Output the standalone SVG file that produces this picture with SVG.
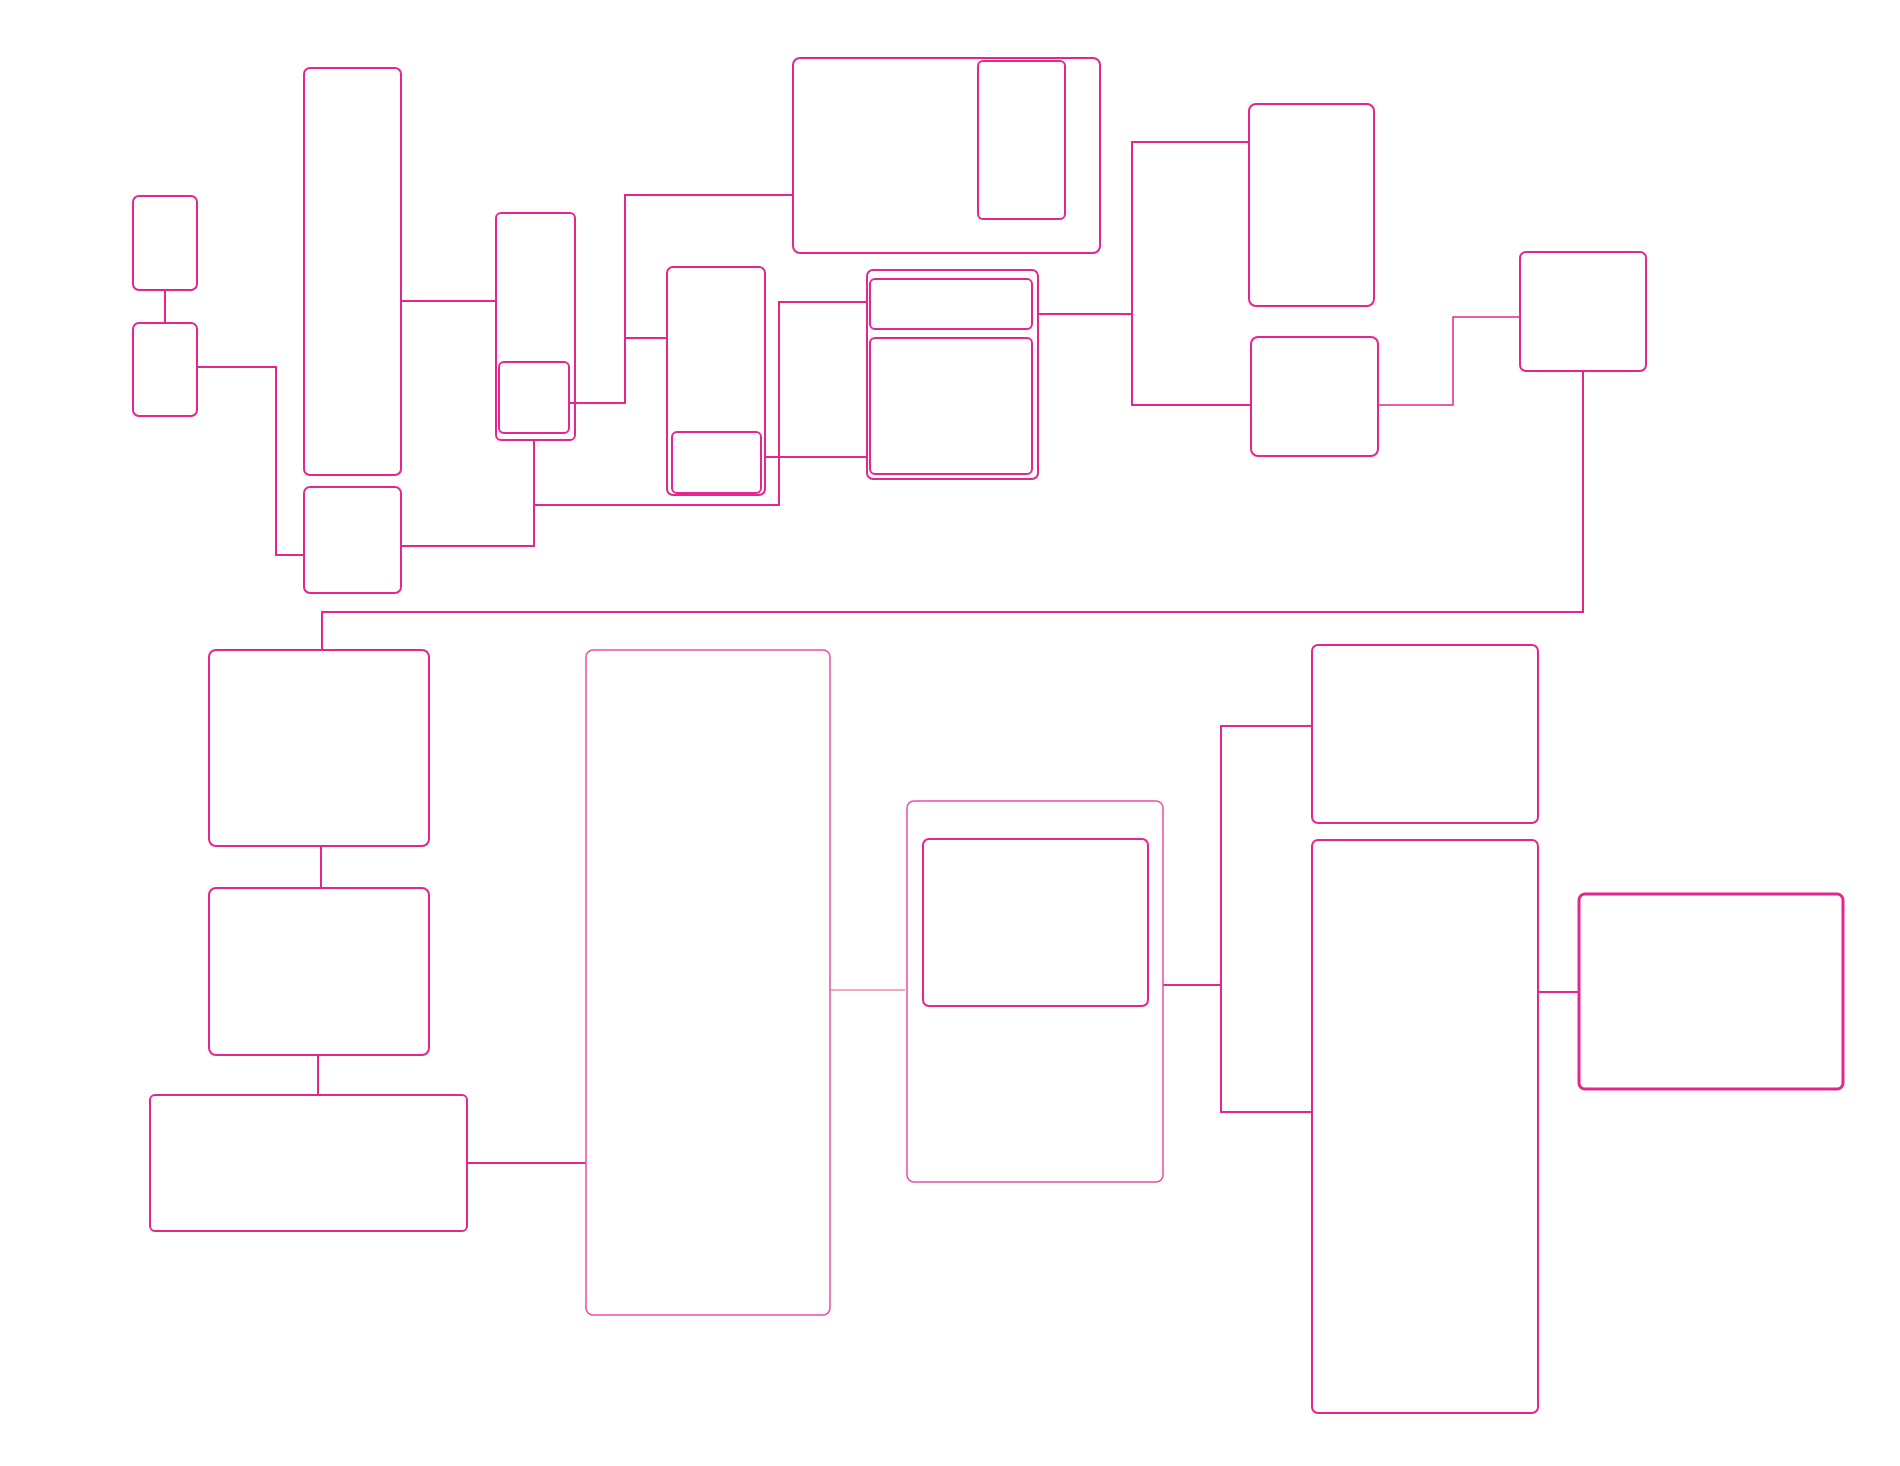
<svg xmlns="http://www.w3.org/2000/svg" width="1900" height="1466" viewBox="0 0 1900 1466">
<style>
.n{fill:none;stroke:#e4268e;stroke-width:2}
.l{fill:none;stroke:#ea4fa0;stroke-width:1.5}
.t{fill:none;stroke:#e4268e;stroke-width:3}
.c{fill:none;stroke:#e4268e;stroke-width:2}
.ct{fill:none;stroke:#e4268e;stroke-width:1.5}
.cl{fill:none;stroke:#ea4fa0;stroke-width:1.2}
</style>
<rect width="1900" height="1466" fill="#ffffff"/>
<g id="connectors">
<path class="c" d="M165,290 V323"/>
<path class="c" d="M197,367 H276 V555 H304"/>
<path class="c" d="M401,301 H496"/>
<path class="c" d="M401,546 H534 V440"/>
<path class="c" d="M534,505 H779 V302 H867"/>
<path class="c" d="M569,403 H625 V195 H793"/>
<path class="c" d="M625,338 H667"/>
<path class="c" d="M765,457 H867"/>
<path class="c" d="M1038,314 H1132"/>
<path class="c" d="M1249,142 H1132 V405 H1251"/>
<path class="ct" d="M1378,405 H1453 V317 H1520"/>
<path class="c" d="M1583,371 V612 H322 V650"/>
<path class="c" d="M321,846 V888"/>
<path class="c" d="M318,1055 V1095"/>
<path class="c" d="M467,1163 H586"/>
<path class="cl" d="M830,990 H905"/>
<path class="c" d="M1163,985 H1221"/>
<path class="c" d="M1312,726 H1221 V1112 H1312"/>
<path class="c" d="M1538,992 H1579"/>
</g>
<g id="node-a"><rect class="n" x="133" y="196" width="64" height="94" rx="6"/></g>
<g id="node-b"><rect class="n" x="133" y="323" width="64" height="93" rx="6"/></g>
<g id="node-c"><rect class="n" x="304" y="68" width="97" height="407" rx="6"/></g>
<g id="node-d"><rect class="n" x="304" y="487" width="97" height="106" rx="6"/></g>
<g id="node-e"><rect class="n" x="496" y="213" width="79" height="227" rx="5"/>
<rect class="n" x="499" y="362" width="70" height="71" rx="5"/></g>
<g id="node-f"><rect class="n" x="667" y="267" width="98" height="228" rx="6"/>
<rect class="n" x="672" y="432" width="89" height="61" rx="5"/></g>
<g id="node-g"><rect class="n" x="867" y="270" width="171" height="209" rx="6"/>
<rect class="n" x="870" y="279" width="162" height="50" rx="5"/>
<rect class="n" x="870" y="338" width="162" height="136" rx="5"/></g>
<g id="node-h"><rect class="n" x="793" y="58" width="307" height="195" rx="7"/>
<rect class="n" x="978" y="61" width="87" height="158" rx="5"/></g>
<g id="node-i"><rect class="n" x="1249" y="104" width="125" height="202" rx="7"/></g>
<g id="node-j"><rect class="n" x="1251" y="337" width="127" height="119" rx="7"/></g>
<g id="node-k"><rect class="n" x="1520" y="252" width="126" height="119" rx="6"/></g>
<g id="node-l"><rect class="n" x="209" y="650" width="220" height="196" rx="7"/></g>
<g id="node-m"><rect class="n" x="209" y="888" width="220" height="167" rx="7"/></g>
<g id="node-n"><rect class="n" x="150" y="1095" width="317" height="136" rx="5"/></g>
<g id="node-o"><rect class="l" x="586" y="650" width="244" height="665" rx="7"/></g>
<g id="node-p"><rect class="l" x="907" y="801" width="256" height="381" rx="7"/>
<rect class="n" x="923" y="839" width="225" height="167" rx="6"/></g>
<g id="node-q"><rect class="n" x="1312" y="645" width="226" height="178" rx="6"/></g>
<g id="node-r"><rect class="n" x="1312" y="840" width="226" height="573" rx="6"/></g>
<g id="node-s"><rect class="t" x="1579" y="894" width="264" height="195" rx="6"/></g>
</svg>
